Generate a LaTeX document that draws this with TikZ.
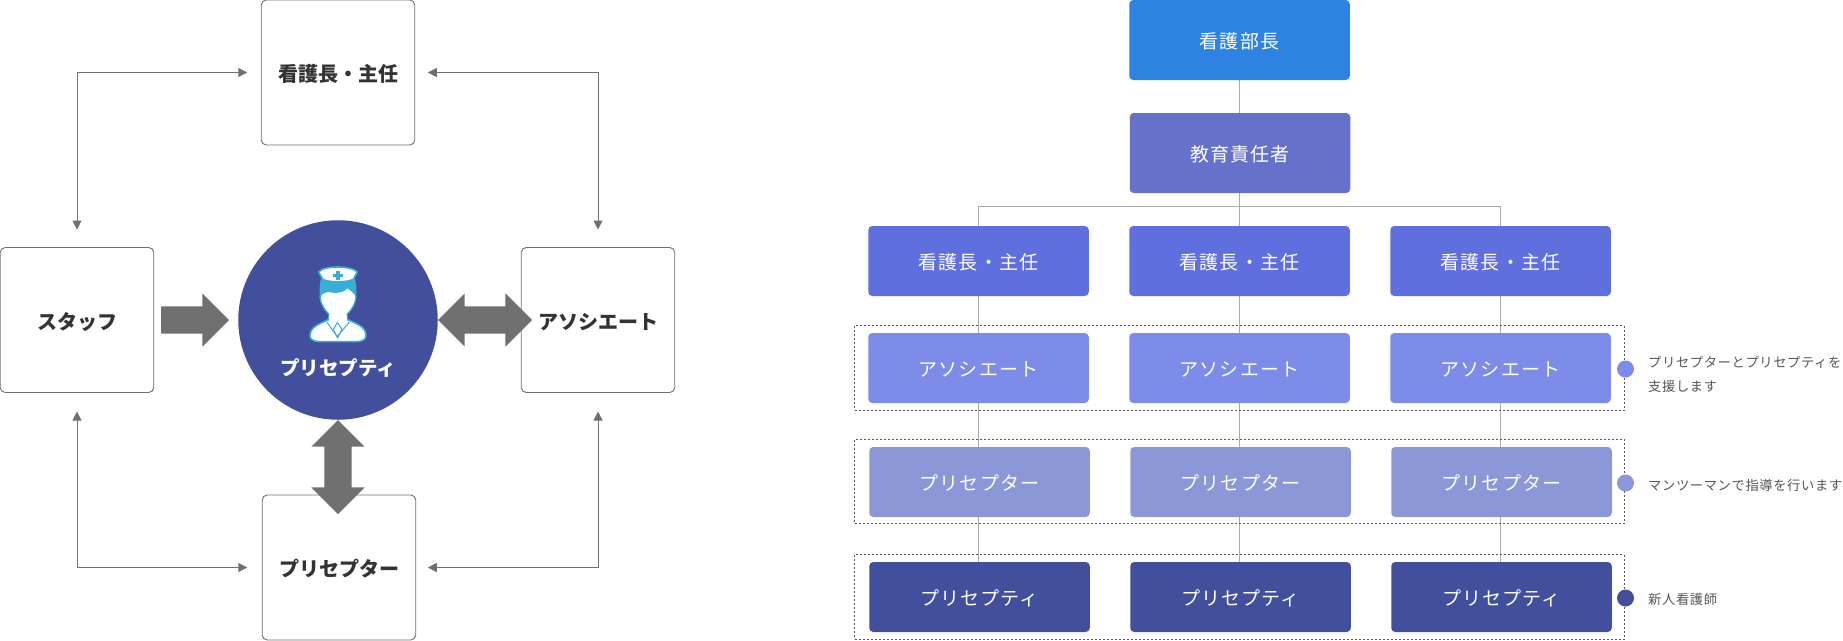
\documentclass[tikz,border=0pt]{standalone}
\usepackage{fontspec}
\usetikzlibrary{arrows.meta,shapes.arrows,backgrounds}
\newfontfamily\jp{Noto Sans CJK JP}
\newfontfamily\jpsp[LetterSpace=6]{Noto Sans CJK JP}
\newfontfamily\jpnote[LetterSpace=4.5]{Noto Sans CJK JP}
\definecolor{linegray}{HTML}{707070}
\definecolor{treegray}{HTML}{ABABAB}
\definecolor{cHead}{HTML}{2E82E2}
\definecolor{cEdu}{HTML}{6672C9}
\definecolor{cChief}{HTML}{5F6FDD}
\definecolor{cAssoc}{HTML}{7D8CE8}
\definecolor{cPrec}{HTML}{8C97D8}
\definecolor{cNew}{HTML}{414F9C}
\definecolor{cIcon}{HTML}{38AED6}
\definecolor{dotline}{HTML}{555555}
\definecolor{darktext}{HTML}{333333}
\definecolor{notetext}{HTML}{555555}
\tikzset{
  leftbox/.style={draw=linegray,line width=.9pt,fill=white,rounded corners=5pt,minimum width=153.5pt,minimum height=145pt,inner sep=0pt,outer sep=0pt,
    text=darktext,font=\jp\bfseries\fontsize{20}{24}\selectfont,text height=19pt,text depth=1pt},
  thin arrow/.style={draw=linegray,line width=1pt,{Triangle[length=9pt,width=9pt]}-{Triangle[length=9pt,width=9pt]}},
  rightarrowblock/.style={single arrow,fill=linegray,inner ysep=13.5pt,inner xsep=0pt,outer sep=0pt,single arrow head extend=13pt,minimum height=68pt},
  bothblock/.style={double arrow,fill=linegray,inner ysep=13.5pt,inner xsep=0pt,outer sep=0pt,double arrow head extend=13pt,minimum height=94pt},
  treebox/.style={rounded corners=4pt,minimum width=220.5pt,minimum height=70pt,inner sep=0pt,outer sep=0pt,text=white,font=\jpsp\fontsize{19}{22}\selectfont,text height=18.2pt,text depth=1pt},
  frame/.style={draw=dotline,line width=1pt,dash pattern=on 2pt off 2pt,minimum width=769.5pt,minimum height=84.5pt,inner sep=0pt,outer sep=0pt},
  marker/.style={circle,minimum size=17pt,inner sep=0pt,outer sep=0pt},
  note/.style={anchor=west,align=left,inner sep=0pt,text=notetext,font=\jpnote\fontsize{13.3}{24}\selectfont},
  tree/.style={draw=treegray,line width=1pt},
}
\begin{document}
\begin{tikzpicture}[x=1pt,y=-1pt]
\useasboundingbox (0,0) rectangle (1843,640);
% Left diagram
\node[leftbox] (lchief) at (338,72.5) {看護長・主任};
\node[leftbox] (lstaff) at (77,320) {スタッフ};
\node[leftbox] (lassoc) at (598,320) {アソシエート};
\node[leftbox] (lprec) at (339,567.5) {プリセプター};
\node[circle,fill=cNew,minimum size=199.5pt,inner sep=0pt,outer sep=0pt] (lnew) at (338,320) {};
\node[text=white,inner sep=0pt,font=\jp\bfseries\fontsize{19.5}{24}\selectfont] (lnewtext) at (338,368) {プリセプティ};
\draw[thin arrow,shorten <=14pt,shorten >=18pt] (lchief.west) -| (lstaff.north);
\draw[thin arrow,shorten <=13pt,shorten >=18pt] (lchief.east) -| (lassoc.north);
\draw[thin arrow,shorten <=15pt,shorten >=19pt] (lprec.west) -| (lstaff.south);
\draw[thin arrow,shorten <=12pt,shorten >=19pt] (lprec.east) -| (lassoc.south);
\node[rightarrowblock,anchor=tail] (blockone) at (161,320) {};
\node[bothblock] (blocktwo) at (485,320) {};
\node[bothblock,rotate=90] (blockthree) at (338,467) {};
% Nurse icon, in coordinates of a 3x crop
\begin{scope}[shift={(230,210)},x=.3333pt,y=-.3333pt]
  \fill[white,draw=cIcon,line width=1.6pt,line join=round]
    (240,378) .. controls (240,352) and (262,345) .. (292,330) -- (302,322) -- (346,322) -- (356,330)
    .. controls (388,345) and (408,352) .. (408,378)
    .. controls (408,388) and (395,395) .. (380,395) -- (268,395) .. controls (252,395) and (240,388) .. (240,378) -- cycle;
  \fill[cIcon] (273,205) -- (375,205) .. controls (380,225) and (380,245) .. (378,268) -- (270,268) .. controls (268,245) and (268,225) .. (273,205) -- cycle;
  \fill[white,draw=cIcon,line width=1.3pt]
    (270,260) .. controls (272,250) and (284,246) .. (296,244) .. controls (318,250) and (345,245) .. (352,232)
    .. controls (366,242) and (376,250) .. (378,260) .. controls (378,280) and (364,300) .. (352,312)
    -- (352,330) -- (296,330) -- (296,312) .. controls (284,300) and (270,280) .. (270,260) -- cycle;
  \fill[white] (298,322) rectangle (350,336);
  \draw[cIcon,line width=1pt,line join=round] (290,336) -- (322,380) -- (358,336);
  \draw[cIcon,line width=1pt,line join=round] (322,338) -- (310,358) -- (323,384) -- (336,358) -- cycle;
  \fill[white,draw=cIcon,line width=1.6pt,line join=round]
    (266,186) .. controls (280,166) and (365,166) .. (382,186)
    -- (370,208) .. controls (350,218) and (298,218) .. (278,208) -- cycle;
  \fill[cIcon] (319,182) rectangle (329,209);
  \fill[cIcon] (310,191) rectangle (338,200);
\end{scope}
% Right diagram: frames
\node[frame] (frameone) at (1239.25,367.75) {};
\node[frame] (frametwo) at (1239.25,481.5) {};
\node[frame] (framethree) at (1239.25,596.75) {};
% Boxes
\node[treebox,fill=cHead,minimum height=80pt] (head) at (1239.5,40) {看護部長};
\node[treebox,fill=cEdu,minimum height=80pt] (edu) at (1240,153) {教育責任者};
\foreach \n/\cx in {a/978.5,b/1239.5,c/1500.5}
  \node[treebox,fill=cChief] (chief\n) at (\cx,261) {看護長・主任};
\foreach \n/\cx in {a/978.5,b/1239.5,c/1500.5}
  \node[treebox,fill=cAssoc] (assoc\n) at (\cx,368) {アソシエート};
\foreach \n/\cx in {a/979.5,b/1240.5,c/1501.5}
  \node[treebox,fill=cPrec] (prec\n) at (\cx,482) {プリセプター};
\foreach \n/\cx in {a/979.5,b/1240.5,c/1501.5}
  \node[treebox,fill=cNew] (new\n) at (\cx,597) {プリセプティ};
% Tree lines
\coordinate (bus) at (1239.5,206.5);
\begin{scope}[on background layer]
  \draw[tree] (head.south) -- (head.south |- edu.north);
  \draw[tree] (edu.south -| bus) -- (bus);
  \draw[tree] (bus) -| (chiefa.north);
  \draw[tree] (bus) -| (chiefc.north);
  \draw[tree] (bus) -- (chiefb.north);
  \foreach \n in {a,b,c} {
    \draw[tree] (chief\n.south) -- (assoc\n.north);
    \draw[tree] (assoc\n.south) -- (assoc\n.south |- prec\n.north);
    \draw[tree] (assoc\n.south |- prec\n.south) -- (assoc\n.south |- new\n.north);
  }
\end{scope}
% Markers and notes
\node[marker,fill=cAssoc] (dotone) at (1625.5,369) {};
\node[marker,fill=cPrec] (dottwo) at (1625.5,483) {};
\node[marker,fill=cNew] (dotthree) at (1625.5,598) {};
\node[note] (noteone) at (1648,375) {プリセプターとプリセプティを\\支援します};
\node[note] (notetwo) at (1648,485) {マンツーマンで指導を行います};
\node[note] (notethree) at (1648,599.5) {新人看護師};
\end{tikzpicture}
\end{document}
